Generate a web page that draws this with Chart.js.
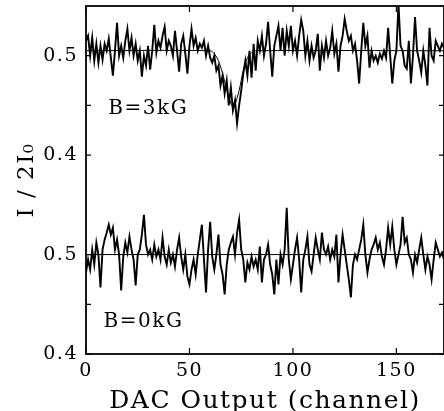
<!DOCTYPE html>
<html>

<head>
  <title>I / 2I0 vs DAC Output</title>
  <script src="https://cdn.jsdelivr.net/npm/chart.js"></script>
</head>

<body style="margin:0;background:#fff;">

  <canvas id="myChart" width="444" height="411"></canvas>

  <script>
    // scans, one value per DAC channel (0..173)
    const trace3kG = [
      0.515, 0.520, 0.500, 0.518, 0.495, 0.512, 0.493, 0.510, 0.496, 0.512,
      0.505, 0.517, 0.498, 0.480, 0.505, 0.533, 0.500, 0.510, 0.498, 0.515,
      0.527, 0.505, 0.518, 0.500, 0.512, 0.495, 0.505, 0.479, 0.500, 0.490,
      0.510, 0.486, 0.505, 0.531, 0.503, 0.515, 0.508, 0.520, 0.529, 0.505,
      0.515, 0.510, 0.500, 0.525, 0.505, 0.484, 0.512, 0.520, 0.502, 0.482,
      0.510, 0.527, 0.510, 0.518, 0.505, 0.512, 0.508, 0.515, 0.500, 0.510,
      0.498, 0.493, 0.500, 0.485, 0.490, 0.470, 0.480, 0.462, 0.475, 0.450,
      0.468, 0.445, 0.455, 0.432, 0.450, 0.465, 0.482, 0.495, 0.480, 0.505,
      0.478, 0.512, 0.485, 0.515, 0.505, 0.520, 0.500, 0.512, 0.534, 0.505,
      0.479, 0.510, 0.520, 0.530, 0.505, 0.528, 0.500, 0.525, 0.510, 0.530,
      0.505, 0.515, 0.500, 0.520, 0.536, 0.525, 0.500, 0.515, 0.495, 0.510,
      0.498, 0.505, 0.522, 0.485, 0.510, 0.498, 0.515, 0.500, 0.508, 0.525,
      0.502, 0.512, 0.484, 0.510, 0.520, 0.537, 0.525, 0.515, 0.520, 0.505,
      0.512, 0.495, 0.472, 0.505, 0.533, 0.510, 0.520, 0.488, 0.505, 0.495,
      0.500, 0.493, 0.502, 0.497, 0.505, 0.498, 0.528, 0.500, 0.472, 0.495,
      0.505, 0.552, 0.510, 0.505, 0.490, 0.487, 0.515, 0.472, 0.500, 0.539,
      0.505, 0.495, 0.483, 0.505, 0.490, 0.470, 0.528, 0.500, 0.495, 0.515,
      0.510, 0.505, 0.512, 0.508
    ];
    const trace0kG = [
      0.482, 0.495, 0.485, 0.505, 0.490, 0.512, 0.500, 0.467, 0.505, 0.515,
      0.522, 0.530, 0.520, 0.527, 0.505, 0.515, 0.500, 0.464, 0.498, 0.512,
      0.502, 0.518, 0.505, 0.495, 0.469, 0.500, 0.505, 0.520, 0.540, 0.510,
      0.500, 0.505, 0.495, 0.510, 0.498, 0.505, 0.495, 0.517, 0.498, 0.490,
      0.505, 0.492, 0.500, 0.488, 0.505, 0.517, 0.498, 0.485, 0.500, 0.478,
      0.470, 0.485, 0.495, 0.480, 0.500, 0.515, 0.530, 0.495, 0.462, 0.505,
      0.533, 0.498, 0.485, 0.500, 0.520, 0.490, 0.480, 0.460, 0.490, 0.505,
      0.512, 0.518, 0.500, 0.522, 0.535, 0.505, 0.495, 0.472, 0.492, 0.485,
      0.498, 0.488, 0.495, 0.485, 0.508, 0.472, 0.495, 0.500, 0.510, 0.490,
      0.480, 0.460, 0.495, 0.470, 0.500, 0.490, 0.505, 0.547, 0.495, 0.475,
      0.490, 0.505, 0.517, 0.495, 0.462, 0.495, 0.505, 0.518, 0.490, 0.483,
      0.500, 0.517, 0.505, 0.495, 0.522, 0.505, 0.500, 0.508, 0.495, 0.505,
      0.498, 0.520, 0.472, 0.500, 0.520, 0.505, 0.490, 0.475, 0.457, 0.490,
      0.500, 0.495, 0.505, 0.515, 0.530, 0.500, 0.482, 0.495, 0.505, 0.510,
      0.517, 0.505, 0.512, 0.498, 0.490, 0.505, 0.527, 0.510, 0.528, 0.505,
      0.490, 0.500, 0.510, 0.538, 0.512, 0.517, 0.500, 0.495, 0.482, 0.500,
      0.492, 0.505, 0.517, 0.500, 0.485, 0.498, 0.490, 0.475, 0.495, 0.512,
      0.505, 0.498, 0.502, 0.495
    ];
    // fitted curves (thin lines)
    const fit3kGChannel = [0, 60, 62, 64, 66, 68, 70, 71, 72, 74, 76, 78, 80, 82, 173];
    const fit3kGValue = [0.505, 0.505, 0.502, 0.495, 0.482, 0.466, 0.452, 0.449, 0.451, 0.465, 0.485, 0.498, 0.503, 0.505, 0.505];
    const fit0kGChannel = [0, 173];
    const fit0kGValue = [0.500, 0.500];

    const panelShift = 0.2; // upper scan sits 0.2 higher on the shared y axis
    const xTicks = [0, 50, 100, 150];
    const yTicks = [0.4, 0.45, 0.5, 0.6, 0.65, 0.7];
    const yTickLabels = ['0.4', '', '0.5', '0.4', '', '0.5'];
    const panelLabels = ['B=3kG', 'B=0kG'];

    const toPoints = (xs, ys, shift) => ys.map((v, i) => ({ x: xs ? xs[i] : i, y: v + shift }));

    const SERIF = '"DejaVu Serif", "Liberation Serif", serif';

    // wide-set lettering like the original typesetting
    const spacing = {
      id: 'spacing',
      beforeDraw(chart) { chart.ctx.letterSpacing = '1.5px'; }
    };

    // box + inward tick marks + panel captions
    const frameTicks = {
      id: 'frameTicks',
      afterDraw(chart) {
        const { ctx, chartArea: a, scales: { x, y } } = chart;
        ctx.save();
        ctx.strokeStyle = '#000';
        ctx.lineWidth = 1.8;
        ctx.strokeRect(a.left, a.top, a.right - a.left, a.bottom - a.top);
        ctx.lineWidth = 1.2;
        ctx.beginPath();
        x.ticks.forEach(t => {
          const px = x.getPixelForValue(t.value);
          ctx.moveTo(px, a.bottom); ctx.lineTo(px, a.bottom - 6);
          ctx.moveTo(px, a.top); ctx.lineTo(px, a.top + 6);
        });
        y.ticks.forEach(t => {
          const py = y.getPixelForValue(t.value);
          ctx.moveTo(a.left, py); ctx.lineTo(a.left + 5, py);
          ctx.moveTo(a.right, py); ctx.lineTo(a.right - 5, py);
        });
        ctx.stroke();
        ctx.fillStyle = '#000';
        ctx.font = '20px ' + SERIF;
        ctx.textBaseline = 'middle';
        ctx.fillText(panelLabels[0], x.getPixelForValue(10.8), y.getPixelForValue(0.647));
        ctx.fillText(panelLabels[1], x.getPixelForValue(8.5), y.getPixelForValue(0.432));
        ctx.restore();
      }
    };

    const config = {
      type: 'line',
      data: {
        datasets: [
          {
            data: toPoints(fit3kGChannel, fit3kGValue, panelShift),
            borderColor: '#000', borderWidth: 1, pointRadius: 0, tension: 0.3
          },
          {
            data: toPoints(fit0kGChannel, fit0kGValue, 0),
            borderColor: '#000', borderWidth: 1, pointRadius: 0
          },
          {
            data: toPoints(null, trace3kG, panelShift),
            borderColor: '#000', borderWidth: 1.9, pointRadius: 0, tension: 0
          },
          {
            data: toPoints(null, trace0kG, 0),
            borderColor: '#000', borderWidth: 1.9, pointRadius: 0, tension: 0
          }
        ]
      },
      options: {
        responsive: false,
        animation: false,
        layout: { padding: { top: 6, right: 0, left: 0, bottom: 0 } },
        scales: {
          x: {
            type: 'linear',
            min: 0,
            max: 173,
            grid: { display: false, drawTicks: false },
            border: { display: false },
            afterBuildTicks: s => { s.ticks = xTicks.map(v => ({ value: v })); },
            afterFit: s => { s.height = 57; s.paddingLeft = 0; s.paddingRight = 0; },
            ticks: {
              color: '#000',
              padding: 6,
              maxRotation: 0,
              font: { family: SERIF, size: 19 },
              callback: v => String(v)
            },
            title: {
              display: true,
              text: 'DAC Output (channel)',
              color: '#000',
              font: { family: SERIF, size: 25 },
              padding: { top: 0, bottom: -5 }
            }
          },
          y: {
            type: 'linear',
            min: 0.4,
            max: 0.75,
            grid: { display: false, drawTicks: false },
            border: { display: false },
            afterBuildTicks: s => { s.ticks = yTicks.map(v => ({ value: v })); },
            afterFit: s => { s.width = 86; s.paddingTop = 0; s.paddingBottom = 0; },
            ticks: {
              color: '#000',
              padding: 8,
              font: { family: SERIF, size: 19 },
              callback: (v, i) => yTickLabels[i]
            },
            title: {
              display: true,
              text: 'I / 2I₀',
              color: '#000',
              font: { family: SERIF, size: 23 },
              padding: { top: 13, bottom: 0 }
            }
          }
        },
        plugins: {
          legend: { display: false },
          tooltip: { enabled: false }
        }
      },
      plugins: [spacing, frameTicks]
    };

    var myChart = new Chart(document.getElementById('myChart'), config);
  </script>
</body>

</html>
